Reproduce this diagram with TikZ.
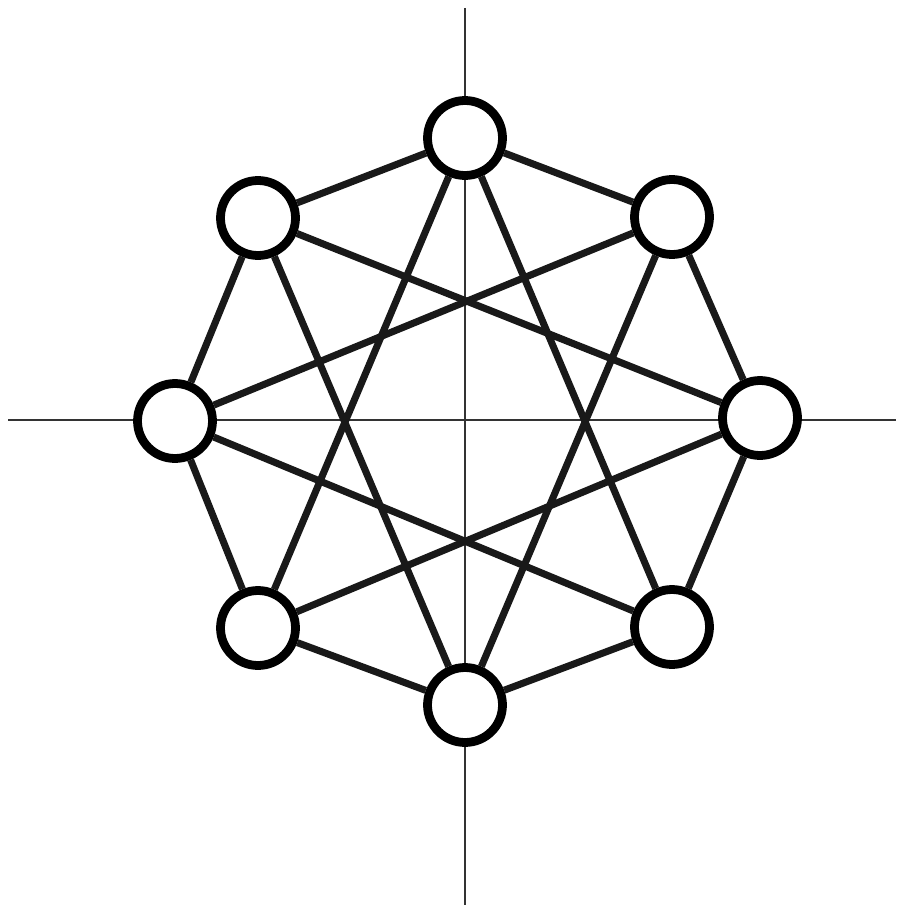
\documentclass[tikz,border=0pt]{standalone}
\begin{document}
\begin{tikzpicture}[x=0.02cm,y=-0.02cm,
  vtx/.style={circle,draw=black,fill=white,line width=5pt,minimum size=1.5cm,inner sep=0pt},
  edge/.style={line width=4pt,draw=black!90},
  axis/.style={line width=0.9pt,draw=black!80}]
\useasboundingbox (0,0) rectangle (896,909);
\coordinate (ax1) at (465,8);
\coordinate (ax2) at (465,905);
\coordinate (ax3) at (8,420);
\coordinate (ax4) at (896,420);
\draw[axis] (ax1) -- (ax2);
\draw[axis] (ax3) -- (ax4);
\node[vtx] (T) at (465,138) {};
\node[vtx] (TR) at (672,217) {};
\node[vtx] (R) at (760,418) {};
\node[vtx] (BR) at (672,627) {};
\node[vtx] (B) at (465,705) {};
\node[vtx] (BL) at (258,628) {};
\node[vtx] (L) at (175,421) {};
\node[vtx] (TL) at (258,218) {};
% octagon
\draw[edge] (T) -- (TR);
\draw[edge] (TR) -- (R);
\draw[edge] (R) -- (BR);
\draw[edge] (BR) -- (B);
\draw[edge] (B) -- (BL);
\draw[edge] (BL) -- (L);
\draw[edge] (L) -- (TL);
\draw[edge] (TL) -- (T);
% star {8/3}
\draw[edge] (T) -- (BR);
\draw[edge] (T) -- (BL);
\draw[edge] (TR) -- (B);
\draw[edge] (TR) -- (L);
\draw[edge] (R) -- (BL);
\draw[edge] (R) -- (TL);
\draw[edge] (BR) -- (L);
\draw[edge] (B) -- (TL);
\end{tikzpicture}
\end{document}
